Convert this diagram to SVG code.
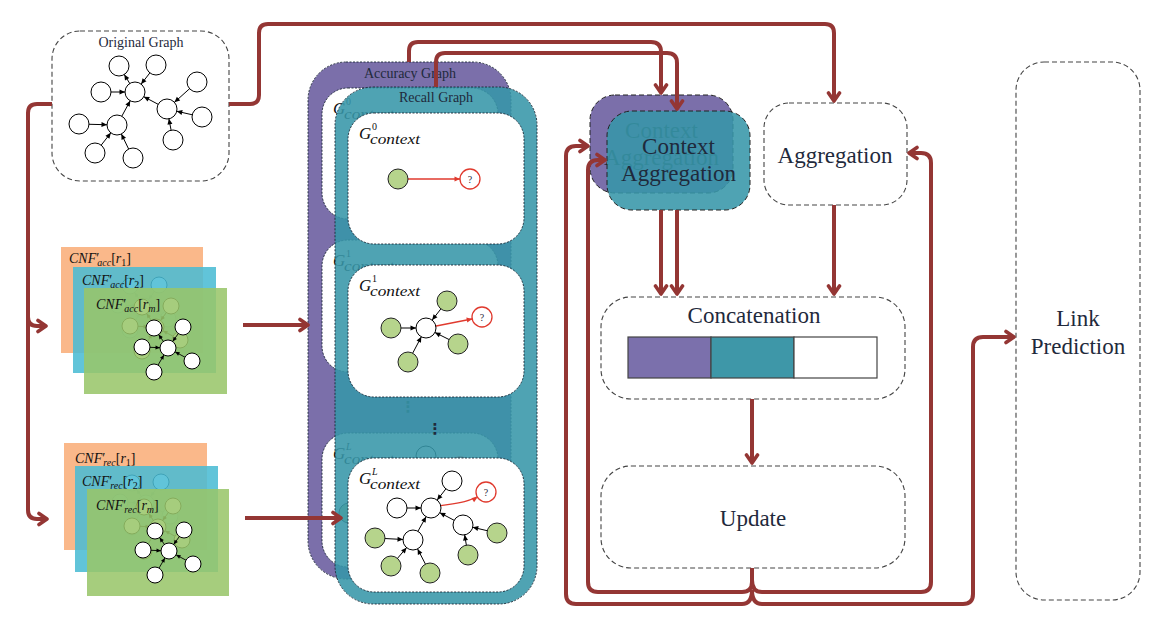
<svg xmlns="http://www.w3.org/2000/svg" xmlns:xlink="http://www.w3.org/1999/xlink" width="1169" height="639" viewBox="0 0 1169 639">
<style>
text{font-family:"Liberation Serif","DejaVu Serif",serif;fill:#1f2a3c}
.dash{fill:#fff;stroke:#444;stroke-width:1.1;stroke-dasharray:5 3}
.big{font-size:23px;text-anchor:middle}
.small{font-size:14px;text-anchor:middle}
.nd{fill:#fff;stroke:#000;stroke-width:1}
.gn{fill:#b6d48c;stroke:#222;stroke-width:1}
.e{stroke:#000;stroke-width:1;fill:none;marker-end:url(#ah)}
.es{stroke:#000;stroke-width:0.9;fill:none;marker-end:url(#ahs)}
.er{stroke:#e03a2e;stroke-width:1.3;fill:none;marker-end:url(#ahr)}
.q{fill:#fff;stroke:#e03a2e;stroke-width:1.3}
.qt{font-size:10px;text-anchor:middle;fill:#1f2a3c}
.flow{fill:none;stroke:#943634;stroke-width:4;stroke-linejoin:round;marker-end:url(#chev)}
.ibox{fill:#fff;stroke:#1a2633;stroke-width:0.9;stroke-dasharray:2 1.5}
.panel{stroke:#1a2633;stroke-width:0.9;stroke-dasharray:2 1.5}
.cnf{font-size:14px;fill:#111}
.it{font-style:italic}
.sub{font-size:10px}
.gl{font-size:17px;font-style:italic;fill:#111}
.gs{font-size:10px;fill:#111}
.gc{font-size:15px;font-style:italic;fill:#111}
.dots{font-family:"DejaVu Sans",sans-serif;font-size:15px;font-weight:bold;text-anchor:middle}
</style>
<defs>
<marker id="ah" viewBox="0 0 20 8" markerWidth="20" markerHeight="8" refX="20" refY="4" orient="auto" markerUnits="userSpaceOnUse"><path d="M4.5,1.5 L10,4 L4.5,6.5 z" fill="#000"/></marker>
<marker id="ahs" viewBox="0 0 20 8" markerWidth="20" markerHeight="8" refX="18" refY="4" orient="auto" markerUnits="userSpaceOnUse"><path d="M5.5,2 L10,4 L5.5,6 z" fill="#000"/></marker>
<marker id="ahr" viewBox="0 0 20 8" markerWidth="20" markerHeight="8" refX="20" refY="4" orient="auto" markerUnits="userSpaceOnUse"><path d="M4.5,1.5 L10,4 L4.5,6.5 z" fill="#e03a2e"/></marker>
<marker id="chev" viewBox="0 0 16 16" markerWidth="16" markerHeight="16" refX="13" refY="8" orient="auto" markerUnits="userSpaceOnUse"><path d="M5,2.5 L13,8 L5,13.5" fill="none" stroke="#943634" stroke-width="3.6" stroke-linecap="round" stroke-linejoin="round"/></marker>

<g id="cg">
<path class="es" d="M84,60 L70,40"/>
<path class="es" d="M99,39 L84,60"/>
<path class="es" d="M58,59 L84,60"/>
<path class="es" d="M108,73 L84,60"/>
<path class="es" d="M70,84 L84,60"/>
<circle cx="84" cy="60" r="8" class="nd"/>
<circle cx="70" cy="40" r="8" class="nd"/>
<circle cx="99" cy="39" r="8" class="nd"/>
<circle cx="58" cy="59" r="8" class="nd"/>
<circle cx="108" cy="73" r="8" class="nd"/>
<circle cx="70" cy="84" r="8" class="nd"/>
</g>

<g id="ctx0">
<rect width="176" height="131" rx="26" class="ibox"/>
<text x="11" y="26" class="gl">G</text><text x="24" y="17" class="gs">0</text><text x="22" y="31" class="gc" textLength="50" lengthAdjust="spacingAndGlyphs">context</text>
<line x1="50" y1="66" x2="122" y2="66" class="er"/>
<circle cx="50" cy="66" r="10" class="gn"/>
<circle cx="122" cy="66" r="10" class="q"/>
<text x="122" y="69.5" class="qt">?</text>
</g>

<g id="ctx1">
<rect width="176" height="132" rx="26" class="ibox"/>
<text x="11" y="26" class="gl">G</text><text x="24" y="17" class="gs">1</text><text x="22" y="31" class="gc" textLength="50" lengthAdjust="spacingAndGlyphs">context</text>
<path class="e" d="M99,36 L78,63"/>
<path class="e" d="M43,63 L78,63"/>
<path class="e" d="M110,79 L78,63"/>
<path class="e" d="M60,97 L78,63"/>
<path class="er" d="M78,63 L134,52"/>
<circle cx="99" cy="36" r="10" class="gn"/>
<circle cx="43" cy="63" r="10" class="gn"/>
<circle cx="78" cy="63" r="10" class="nd"/>
<circle cx="110" cy="79" r="10" class="gn"/>
<circle cx="60" cy="97" r="10" class="gn"/>
<circle cx="134" cy="52" r="10" class="q"/>
<text x="134" y="55.5" class="qt">?</text>
</g>

<g id="ctxL">
<rect width="176" height="134" rx="26" class="ibox"/>
<text x="11" y="26" class="gl">G</text><text x="24" y="17" class="gs" font-style="italic">L</text><text x="22" y="31" class="gc" textLength="50" lengthAdjust="spacingAndGlyphs">context</text>
<path class="e" d="M104,23 L83,50"/>
<path class="e" d="M49,50 L83,50"/>
<path class="e" d="M115,67 L83,50"/>
<path class="e" d="M65,82 L83,50"/>
<path class="e" d="M27,80 L65,82"/>
<path class="e" d="M43,108 L65,82"/>
<path class="e" d="M82,115 L65,82"/>
<path class="e" d="M149,75 L115,67"/>
<path class="e" d="M120,97 L115,67"/>
<path class="er" d="M83,50 C98,44 112,50 138,34"/>
<circle cx="104" cy="23" r="10" class="nd"/>
<circle cx="49" cy="50" r="10" class="nd"/>
<circle cx="83" cy="50" r="10" class="nd"/>
<circle cx="115" cy="67" r="10" class="nd"/>
<circle cx="65" cy="82" r="10" class="nd"/>
<circle cx="27" cy="80" r="10" class="gn"/>
<circle cx="149" cy="75" r="10" class="gn"/>
<circle cx="120" cy="97" r="10" class="gn"/>
<circle cx="43" cy="108" r="10" class="gn"/>
<circle cx="82" cy="115" r="10" class="gn"/>
<circle cx="138" cy="34" r="10" class="q"/>
<text x="138" y="37.5" class="qt">?</text>
</g>
</defs>

<rect width="1169" height="639" fill="#fff"/>

<g id="original-graph">
<rect x="52" y="31" width="177" height="150" rx="28" class="dash"/>
<text x="141" y="47" class="small">Original Graph</text>
<path class="e" d="M135,92 L119,66"/>
<path class="e" d="M156,65 L135,92"/>
<path class="e" d="M101,92 L135,92"/>
<path class="e" d="M167,109 L135,92"/>
<path class="e" d="M197,82 L167,109"/>
<path class="e" d="M202,117 L167,109"/>
<path class="e" d="M173,140 L167,109"/>
<path class="e" d="M117,125 L135,92"/>
<path class="e" d="M79,124 L117,125"/>
<path class="e" d="M95,153 L117,125"/>
<path class="e" d="M133,158 L117,125"/>
<circle cx="119" cy="66" r="10" class="nd"/>
<circle cx="156" cy="65" r="10" class="nd"/>
<circle cx="101" cy="92" r="10" class="nd"/>
<circle cx="135" cy="92" r="10" class="nd"/>
<circle cx="197" cy="82" r="10" class="nd"/>
<circle cx="167" cy="109" r="10" class="nd"/>
<circle cx="202" cy="117" r="10" class="nd"/>
<circle cx="79" cy="124" r="10" class="nd"/>
<circle cx="117" cy="125" r="10" class="nd"/>
<circle cx="173" cy="140" r="10" class="nd"/>
<circle cx="95" cy="153" r="10" class="nd"/>
<circle cx="133" cy="158" r="10" class="nd"/>
</g>

<g id="cnf-acc">
<rect x="61" y="247" width="142" height="106" fill="#fab88a"/>
<use xlink:href="#cg" x="60" y="246"/>
<text x="69" y="263" class="cnf"><tspan class="it">CNF</tspan>′<tspan class="sub it" dx="-2" dy="3">acc</tspan><tspan dy="-3">[</tspan><tspan class="it">r</tspan><tspan class="sub" dy="3">1</tspan><tspan dy="-3">]</tspan></text>
<rect x="73" y="267" width="143" height="106" fill="#4abbd3" fill-opacity="0.87"/>
<use xlink:href="#cg" x="72" y="267"/>
<text x="82" y="285" class="cnf"><tspan class="it">CNF</tspan>′<tspan class="sub it" dx="-2" dy="3">acc</tspan><tspan dy="-3">[</tspan><tspan class="it">r</tspan><tspan class="sub" dy="3">2</tspan><tspan dy="-3">]</tspan></text>
<rect x="84" y="288" width="143" height="106" fill="#99c56a" fill-opacity="0.87"/>
<use xlink:href="#cg" x="84" y="288"/>
<text x="96" y="309" class="cnf"><tspan class="it">CNF</tspan>′<tspan class="sub it" dx="-2" dy="3">acc</tspan><tspan dy="-3">[</tspan><tspan class="it">r</tspan><tspan class="sub it" dy="3">m</tspan><tspan dy="-3">]</tspan></text>
</g>

<g id="cnf-rec">
<rect x="64" y="443" width="143" height="107" fill="#fab88a"/>
<use xlink:href="#cg" x="62" y="443"/>
<text x="75" y="463" class="cnf"><tspan class="it">CNF</tspan>′<tspan class="sub it" dx="-2" dy="3">rec</tspan><tspan dy="-3">[</tspan><tspan class="it">r</tspan><tspan class="sub" dy="3">1</tspan><tspan dy="-3">]</tspan></text>
<rect x="75" y="466" width="143" height="106" fill="#4abbd3" fill-opacity="0.87"/>
<use xlink:href="#cg" x="74" y="467"/>
<text x="82" y="486" class="cnf"><tspan class="it">CNF</tspan>′<tspan class="sub it" dx="-2" dy="3">rec</tspan><tspan dy="-3">[</tspan><tspan class="it">r</tspan><tspan class="sub" dy="3">2</tspan><tspan dy="-3">]</tspan></text>
<rect x="87" y="489" width="142" height="107" fill="#99c56a" fill-opacity="0.87"/>
<use xlink:href="#cg" x="85" y="491"/>
<text x="96" y="510" class="cnf"><tspan class="it">CNF</tspan>′<tspan class="sub it" dx="-2" dy="3">rec</tspan><tspan dy="-3">[</tspan><tspan class="it">r</tspan><tspan class="sub it" dy="3">m</tspan><tspan dy="-3">]</tspan></text>
</g>

<g id="accuracy-graph">
<rect x="308" y="62" width="203" height="517" rx="38" fill="#7b6faa" class="panel"/>
<text x="410" y="78" class="small">Accuracy Graph</text>
<use xlink:href="#ctx0" x="322" y="88"/>
<use xlink:href="#ctx1" x="322" y="240"/>
<use xlink:href="#ctxL" x="322" y="433"/>
<text x="408" y="412" class="dots">⋮</text>
</g>

<g id="recall-graph">
<rect x="335" y="87" width="202" height="517" rx="38" fill="#3796a8" fill-opacity="0.88" class="panel"/>
<text x="436" y="102" class="small">Recall Graph</text>
<use xlink:href="#ctx0" x="348" y="113"/>
<use xlink:href="#ctx1" x="348" y="265"/>
<use xlink:href="#ctxL" x="348" y="458"/>
<text x="435" y="434" class="dots">⋮</text>
</g>

<g id="context-aggregation">
<rect x="590" y="95" width="143" height="98" rx="25" fill="#7b6faa" stroke="#222" stroke-width="1" stroke-dasharray="5 3"/>
<text x="661.5" y="138" class="big">Context</text>
<text x="661.5" y="165" class="big">Aggregation</text>
<rect x="607" y="111" width="143" height="99" rx="25" fill="#3796a8" fill-opacity="0.88" stroke="#222" stroke-width="1" stroke-dasharray="5 3"/>
<text x="678.5" y="154" class="big">Context</text>
<text x="678.5" y="181" class="big">Aggregation</text>
</g>

<g id="aggregation">
<rect x="764" y="103" width="143" height="102" rx="25" class="dash"/>
<text x="835" y="163" class="big">Aggregation</text>
</g>

<g id="concatenation">
<rect x="601" y="297" width="304" height="102" rx="30" class="dash"/>
<text x="754" y="323" class="big">Concatenation</text>
<rect x="628" y="337" width="83" height="41" fill="#7b70ac" stroke="#444" stroke-width="1.2"/>
<rect x="711" y="337" width="83" height="41" fill="#3e97a8" stroke="#444" stroke-width="1.2"/>
<rect x="794" y="337" width="83" height="41" fill="#fff" stroke="#444" stroke-width="1.2"/>
</g>

<g id="update">
<rect x="601" y="466" width="304" height="102" rx="30" class="dash"/>
<text x="753" y="526" class="big">Update</text>
</g>

<g id="link-prediction">
<rect x="1016" y="62" width="124" height="538" rx="28" class="dash"/>
<text x="1078" y="326" class="big">Link</text>
<text x="1078" y="354" class="big">Prediction</text>
</g>

<g id="connectors">
<path class="flow" d="M52,104 H37 Q28,104 28,113 V317 Q28,326 37,326 H46"/>
<path class="flow" d="M28,317 V510 Q28,519 37,519 H47"/>
<path class="flow" d="M229,104 H250 Q259,104 259,95 V33 Q259,24 268,24 H825 Q834,24 834,33 V101"/>
<path class="flow" d="M243,325 H308"/>
<path class="flow" d="M245,518 H341"/>
<path class="flow" d="M409,62 V51 Q409,42 418,42 H651 Q661,42 661,52 V93"/>
<path class="flow" d="M436,87 V62 Q436,53 445,53 H667 Q677,53 677,63 V109"/>
<path class="flow" d="M661,210 V294"/>
<path class="flow" d="M677,210 V294"/>
<path class="flow" d="M834,205 V294"/>
<path class="flow" d="M752,399 V463"/>
<path class="flow" d="M752,568 V582 Q752,592 742,592 H598 Q588,592 588,582 V170 Q588,160 598,160 H605"/>
<path class="flow" d="M752,580 Q752,592 762,592 H921 Q931,592 931,582 V163 Q931,153 921,153 H909"/>
<path class="flow" d="M752,590 Q752,604 742,604 H576 Q566,604 566,594 V156 Q566,146 576,146 H588"/>
<path class="flow" d="M752,590 Q752,604 762,604 H963 Q973,604 973,594 V347 Q973,337 983,337 H1014"/>
</g>
</svg>
